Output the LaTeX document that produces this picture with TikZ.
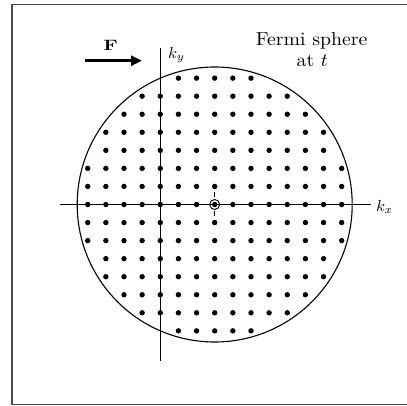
\documentclass[tikz,border=0pt]{standalone}
\usetikzlibrary{arrows.meta}
\begin{document}
\begin{tikzpicture}[x=1pt,y=-1pt,
  frameline/.style={line width=1.3pt, black!70},
  axis/.style={line width=1.1pt},
  sphere/.style={line width=1.1pt},
  lab/.style={inner sep=0pt},
  bigtext/.style={inner sep=0pt, anchor=base},
  force/.style={line width=3.5pt, -{Triangle[length=11pt,width=10pt]}}]
\useasboundingbox (0,0) rectangle (407,406);
% frame (open on the right)
\draw[frameline] (407,4.3) -- (12,4.3) -- (12,404.5) -- (407,404.5);
% centre of the sphere
\coordinate (O) at (214.7,204.5);
\draw[sphere] (O) circle[radius=137.5];
% lattice points inside the sphere
\foreach \i in {-7,...,7} {
  \foreach \j in {-7,...,7} {
    \pgfmathtruncatemacro\rr{\i*\i+\j*\j}
    \ifnum\rr<56
      \fill ({214.7+\i*18.14},{204.5+\j*18.05}) circle[radius=2.7];
    \fi
  }
}
% axes
\coordinate (kxL) at (60,204.5);
\coordinate (kxR) at (371,204.5);
\coordinate (kyT) at (160.3,48);
\coordinate (kyB) at (160.3,361);
\draw[axis] (kxL) -- (kxR);
\draw[axis] (kyT) -- (kyB);
\node[lab] (kx) at (384.5,207) {\scalebox{1.65}[1.6]{$k_x$}};
\node[lab] (ky) at (176.5,55) {\scalebox{1.65}[1.6]{$k_y$}};
% marked centre
\draw[line width=0.9pt] (O) circle[radius=5];
\coordinate (t1a) at (214.7,192.5);
\coordinate (t1b) at (214.7,197.5);
\coordinate (t2a) at (214.7,211);
\coordinate (t2b) at (214.7,216.5);
\draw[line width=1pt] (t1a) -- (t1b);
\draw[line width=1pt] (t2a) -- (t2b);
% force
\coordinate (Fa) at (85,60.7);
\coordinate (Fb) at (142,60.7);
\draw[force] (Fa) -- (Fb);
\node[lab] (F) at (110.5,45.5) {\scalebox{2.0}[1.5]{\bfseries F}};
% title
\node[bigtext] (t1) at (311.7,46) {\scalebox{1.98}[1.88]{Fermi sphere}};
\node[bigtext] (t2) at (312.3,66.7) {\scalebox{1.98}[1.88]{at $t$}};
\end{tikzpicture}
\end{document}
